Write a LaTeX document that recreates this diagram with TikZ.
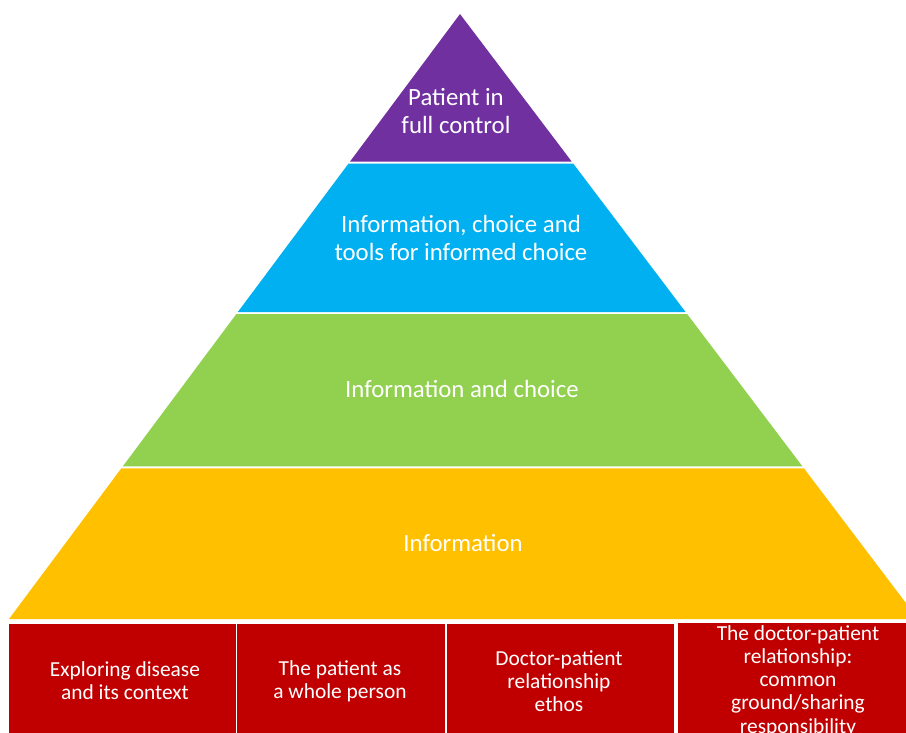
\documentclass[tikz,border=0pt]{standalone}
\usepackage{fontspec}
\setmainfont{Carlito}
\usetikzlibrary{calc}
\definecolor{topviolet}{HTML}{7030A0}
\definecolor{skyblue}{HTML}{00B0F0}
\definecolor{leafgreen}{HTML}{92D050}
\definecolor{amber}{HTML}{FFC000}
\definecolor{darkred}{HTML}{C00000}
\tikzset{laytext/.style={text=white,align=center,inner sep=0pt,font=\fontsize{24.8}{27.5}\selectfont},
         boxtext/.style={text=white,align=center,inner sep=0pt,font=\fontsize{21.4}{23.2}\selectfont}
}

\begin{document}
\begin{tikzpicture}[x=1pt,y=-1pt]
  \useasboundingbox(0,0)rectangle(906,732);
  \coordinate(A)at(460,14);
  \coordinate(L)at(9,619);
  \coordinate(R)at(918,619);
  % pyramid layers
  \foreach\col/\ta/\tb in {topviolet/0/0.2438,skyblue/0.2471/0.4926,leafgreen/0.4959/0.7479,amber/0.7512/1} {
     \fill[\col]($(A)!\ta!(L)$)--($(A)!\tb!(L)$)--($(A)!\tb!(R)$)--($(A)!\ta!(R)$)--cycle;
   }
  \node[laytext](control)at(456,111){Patient in\\full control};
  \node[laytext](tools)at(461,238){Information, choice and\\tools for informed choice};
  \node[laytext](choice)at(462,389){Information and choice};
  \node[laytext](info)at(463,543){Information};
  % foundation boxes
  \fill[darkred](9,624)rectangle(236,740);
  \fill[darkred](237,624)rectangle(445,740);
  \fill[darkred](447,624)rectangle(674,740);
  \fill[darkred](678,623)rectangle(910,740);
  \node[boxtext](disease)at(125,681){Exploring disease\\and its context};
  \node[boxtext](person)at(340,681){The patient as\\a whole person};
  \node[boxtext](ethos)at(559,681){Doctor-patient\\relationship\\ethos};
  \node[boxtext](ground)at(798,681){The doctor-patient\\relationship:\\common\\ground/sharing\\responsibility};
\end{tikzpicture}
\end{document}
